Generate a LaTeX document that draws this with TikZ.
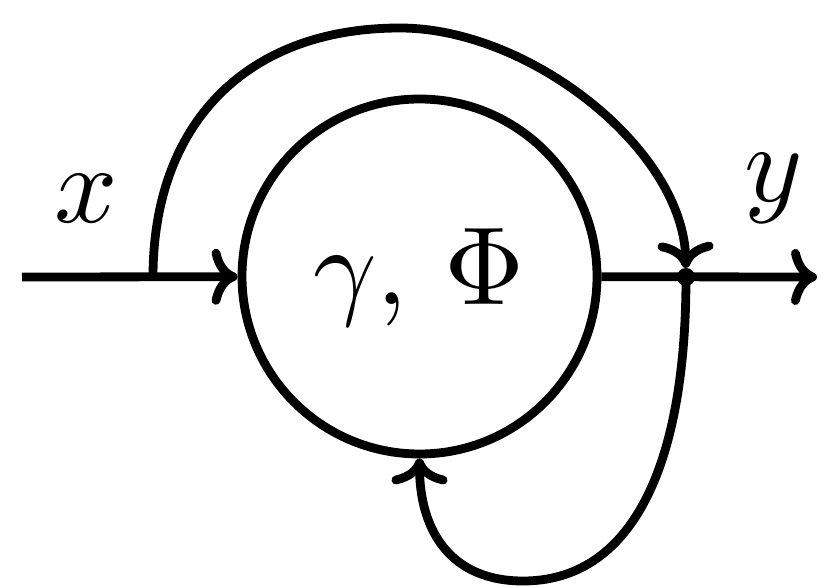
\documentclass[tikz,border=0pt]{standalone}
\usepackage{amsmath,amssymb}
\usepackage{tikz}
\usetikzlibrary{arrows.meta}

\tikzset{
  junction/.style={circle, fill, inner sep=0pt, outer sep=0pt, minimum size=18pt},
  biglabel/.style={scale=11.1}
}

\begin{document}
\begin{tikzpicture}[x=1pt, y=1pt, line width=8.8pt,
    >={Computer Modern Rightarrow[length=26pt, width=56pt]}]
    \useasboundingbox (0,0) rectangle (829,587);
    % the system block
    \node[draw, circle, minimum size=355pt, inner sep=0pt] (sys) at (419.5,310.5) {};
    \node[biglabel] (syslab) at (419,310) {$\gamma,\,\Phi$};
    \node[biglabel] (xlab) at (86.5,388) {$x$};
    \node[biglabel] (ylab) at (774,399) {$y$};
    \coordinate (in) at (22,310);
    \coordinate (branch) at (153,310);
    \coordinate (out) at (817,310);
    \node[junction] (junc) at (686,310) {};
    % signal paths
    \draw[->] (in) -- (sys);
    \draw[->] (branch) .. controls (153,462) and (245,559) .. (400,559)
      .. controls (530,559) and (684,437) .. (junc);
    \draw[->] (sys) -- (out);
    \draw[->] (junc.center) .. controls (686,117) and (630,6) .. (523,6)
      .. controls (450,6) and (419.5,57) .. (sys);
\end{tikzpicture}
\end{document}
